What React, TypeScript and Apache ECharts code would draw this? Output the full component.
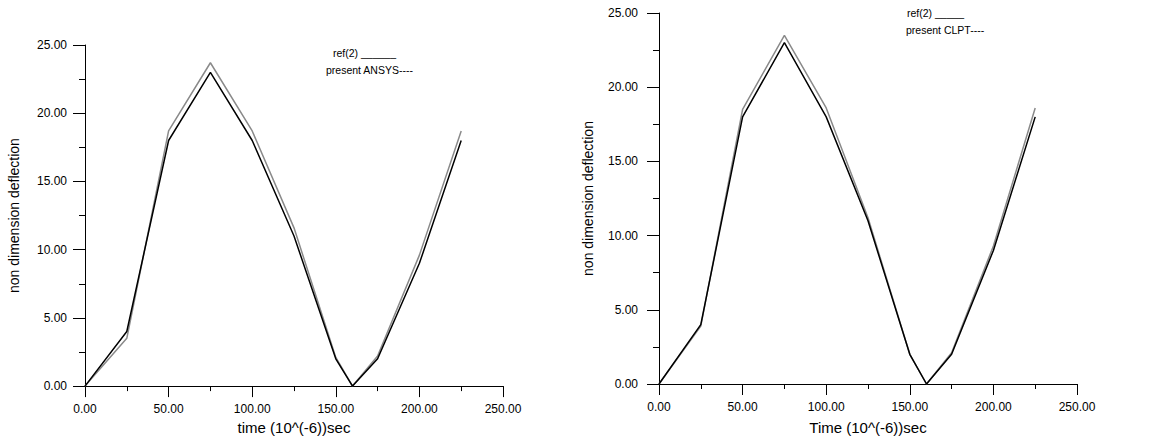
import React, { useEffect, useRef } from "react";
import * as echarts from "echarts";

const timeValues = [0, 25, 50, 75, 100, 125, 150, 160, 175, 200, 225];
const leftRef = [0, 3.5, 18.7, 23.7, 18.7, 11.6, 2.1, 0, 2.2, 9.6, 18.7];
const leftAnsys = [0, 4, 18, 23, 18, 11, 2, 0, 2, 9, 18];
const rightRef = [0, 3.9, 18.5, 23.5, 18.6, 11.2, 2.0, 0, 2.1, 9.3, 18.6];
const rightClpt = [0, 4, 18, 23, 18, 11, 2, 0, 2, 9, 18];

const leftXTitle = "time (10^(-6))sec";
const rightXTitle = "Time (10^(-6))sec";
const yTitle = "non dimension deflection";

const pairs = (xs: number[], ys: number[]) => xs.map((x, i) => [x, ys[i]]);

const FONT = "Liberation Sans, Arial, sans-serif";

export default function App() {
  const ref = useRef<HTMLDivElement>(null);
  useEffect(() => {
    if (!ref.current) return;
    const chart = echarts.init(ref.current, undefined, { renderer: "svg" });
    const xAxisBase = (gridIndex: number, name: string, nameGap: number) => ({
      type: "value",
      gridIndex,
      min: 0,
      max: 250,
      interval: 50,
      name,
      nameLocation: "middle",
      nameGap,
      nameTextStyle: { color: "#000", fontSize: 15, fontFamily: FONT },
      axisLine: { show: true, lineStyle: { color: "#000", width: 1 } },
      axisTick: { show: true, length: 11, lineStyle: { color: "#000" } },
      minorTick: { show: true, splitNumber: 2, length: 5, lineStyle: { color: "#000" } },
      splitLine: { show: false },
      axisLabel: {
        color: "#000",
        fontSize: 12,
        fontFamily: FONT,
        margin: 17,
        formatter: (v: number) => v.toFixed(2),
      },
    });
    const yAxisBase = (gridIndex: number, labelMargin: number) => ({
      type: "value",
      gridIndex,
      min: 0,
      max: 25,
      interval: 5,
      name: yTitle,
      nameLocation: "middle",
      nameGap: 64,
      nameTextStyle: { color: "#000", fontSize: 14, fontFamily: FONT },
      axisLine: { show: true, lineStyle: { color: "#000", width: 1 } },
      axisTick: { show: true, length: 12, lineStyle: { color: "#000" } },
      minorTick: { show: true, splitNumber: 2, length: 6, lineStyle: { color: "#000" } },
      splitLine: { show: false },
      axisLabel: {
        color: "#000",
        fontSize: 12,
        fontFamily: FONT,
        margin: labelMargin,
        formatter: (v: number) => v.toFixed(2),
      },
    });
    const line = (xi: number, data: number[][], color: string) => ({
      type: "line",
      xAxisIndex: xi,
      yAxisIndex: xi,
      data,
      showSymbol: false,
      symbol: "none",
      lineStyle: { color, width: 1.5 },
    });
    chart.setOption({
      animation: false,
      backgroundColor: "#fff",
      grid: [
        { left: 85, top: 45, width: 418, height: 346 },
        { left: 659, top: 13, width: 418, height: 374 },
      ],
      xAxis: [xAxisBase(0, leftXTitle, 32), xAxisBase(1, rightXTitle, 36)],
      yAxis: [yAxisBase(0, 18), yAxisBase(1, 21)],
      series: [
        line(0, pairs(timeValues, leftRef), "#8a8a8a"),
        line(0, pairs(timeValues, leftAnsys), "#000"),
        line(1, pairs(timeValues, rightRef), "#8a8a8a"),
        line(1, pairs(timeValues, rightClpt), "#000"),
      ],
      graphic: [
        { type: "text", left: 333, top: 47, style: { text: "ref(2) ______", fontSize: 10.5, fontFamily: FONT, fill: "#000" } },
        { type: "text", left: 326, top: 64, style: { text: "present ANSYS----", fontSize: 10.5, fontFamily: FONT, fill: "#000" } },
        { type: "text", left: 907, top: 7, style: { text: "ref(2) _____", fontSize: 10.5, fontFamily: FONT, fill: "#000" } },
        { type: "text", left: 906, top: 24, style: { text: "present CLPT----", fontSize: 10.5, fontFamily: FONT, fill: "#000" } },
      ],
    });
    return () => chart.dispose();
  }, []);
  return (
    <div
      ref={ref}
      style={{ position: "absolute", left: 0, top: 0, width: 1163, height: 440, background: "#fff" }}
    />
  );
}
